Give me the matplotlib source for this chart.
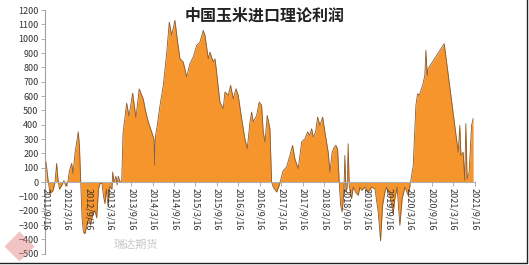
import matplotlib
matplotlib.use("Agg")
import matplotlib.pyplot as plt
import pandas as pd

plt.rcParams['font.family'] = ['Noto Sans CJK SC', 'DejaVu Sans']

start = pd.Timestamp('2011-09-16')

# days after 2011/9/16 and theoretical import profit (yuan/ton)
days = [4, 21, 38, 64, 81, 95, 106, 119, 140, 157, 174, 192, 204, 223, 234, 251, 279, 289,
        300, 311, 323, 336, 353, 370, 383, 404, 421, 436, 451, 464, 481, 494, 506, 519, 532,
        549, 566, 572, 583, 600, 609, 620, 634, 649, 660, 691, 711, 742, 770, 798, 832, 851,
        875, 904, 924, 930, 936, 949, 975, 1003, 1032, 1054, 1074, 1102, 1125, 1145, 1173,
        1202, 1230, 1258, 1287, 1315, 1343, 1358, 1386, 1400, 1428, 1443, 1457, 1485, 1513,
        1528, 1556, 1576, 1599, 1622, 1641, 1670, 1698, 1718, 1741, 1755, 1769, 1798, 1820,
        1840, 1854, 1869, 1888, 1911, 1925, 1939, 1968, 1990, 2002, 2024, 2053, 2081, 2104,
        2124, 2152, 2181, 2209, 2232, 2251, 2266, 2280, 2300, 2317, 2337, 2360, 2379, 2407,
        2422, 2441, 2458, 2473, 2487, 2501, 2513, 2526, 2541, 2549, 2558, 2569, 2577, 2586,
        2606, 2620, 2640, 2663, 2677, 2692, 2720, 2748, 2777, 2805, 2833, 2853, 2870, 2890,
        2904, 2932, 2960, 2975, 2994, 3017, 3037, 3060, 3088, 3109, 3131, 3154, 3168, 3182,
        3211, 3230, 3239, 3250, 3258, 3395, 3514, 3528, 3537, 3556, 3570, 3579, 3590, 3607,
        3628, 3641]
profit = [140, 20, -80, -60, 0, 130, 20, -50, -20, 10, -30, 10, 80, 130, 60, 200, 350, 250,
          0, -250, -350, -360, -300, -250, -300, -220, -200, -250, -50, -10, -10, -100, -150,
          -50, -170, -30, -50, 70, 0, 40, -20, 40, 0, 10, 340, 550, 460, 620, 450, 650, 580,
          500, 420, 350, 300, 120, 320, 380, 535, 674, 900, 1116, 1023, 1128, 977, 860, 837,
          733, 826, 872, 953, 977, 1058, 1023, 860, 907, 837, 860, 767, 558, 512, 628, 605,
          674, 581, 651, 605, 442, 302, 233, 419, 488, 419, 465, 558, 535, 349, 279, 465, 372,
          0, -35, -70, -23, 12, 81, 105, 186, 256, 160, 93, 279, 302, 349, 326, 372, 314, 349,
          453, 395, 453, 349, 209, 70, 209, 244, 256, 233, 0, -163, -209, -70, 186, -70, -35,
          267, -23, -116, -35, -70, -93, -35, -58, -35, -70, -35, -47, -209, -410, -163, -70,
          -35, -93, -221, -116, -35, -302, -116, -35, -93, 0, 116, 535, 616, 605, 674, 744,
          919, 744, 791, 965, 209, 395, 186, 209, 12, 407, 23, 70, 395, 442]

dates = [start + pd.Timedelta(days=d) for d in days]
tick_dates = [start + pd.DateOffset(months=6 * k) for k in range(21)]
tick_labels = [f"{t.year}/{t.month}/{t.day}" for t in tick_dates]

fig = plt.figure(figsize=(5.29, 2.65), dpi=100)
ax = fig.add_axes([0.086, 0.0426, 0.811, 0.9196])

ax.fill_between(dates, profit, 0, color='#F5952C', linewidth=0, zorder=2)
ax.plot(dates, profit, color='#8A5A2E', linewidth=0.6, zorder=3)

ax.set_xlim(start, start + pd.DateOffset(years=10))
ax.set_ylim(-500, 1200)
ax.set_yticks(range(-500, 1201, 100))
ax.set_xticks(tick_dates)
ax.set_xticklabels(tick_labels)

for s in ['top', 'right']:
    ax.spines[s].set_visible(False)
ax.spines['bottom'].set_position(('data', 0))
ax.spines['bottom'].set_color('#B0B0B0')
ax.spines['bottom'].set_zorder(4)
ax.spines['left'].set_color('#A0A0A0')
ax.xaxis.set_zorder(5)
ax.tick_params(axis='y', labelsize=6.5, colors='#A0A0A0', labelcolor='#333333',
               length=3, width=0.6, pad=2)
ax.tick_params(axis='x', labelsize=6.5, colors='#A0A0A0', labelcolor='#333333',
               length=3, width=0.6, pad=1, labelrotation=270)
for lbl in ax.get_xticklabels():
    lbl.set_ha('center')
    lbl.set_va('top')

fig.text(0.5, 0.94, '中国玉米进口理论利润', ha='center', va='center',
         fontsize=11.5, fontweight='bold', color='#222222')

# watermark logo
fig.add_artist(plt.Line2D([0.035], [0.07], marker='D', markersize=15, linestyle='none',
                          markerfacecolor='#E07A7A', markeredgecolor='none', alpha=0.45,
                          transform=fig.transFigure))
fig.text(0.215, 0.075, '瑞达期货', ha='left', va='center', fontsize=8,
         color='#B8B8B8', alpha=0.8)

# outer frame (right and bottom visible)
fig.add_artist(plt.Line2D([0, 0.997, 0.997], [0.008, 0.008, 1.0],
                          transform=fig.transFigure, color='#222222', linewidth=1))

fig.savefig('out.png', dpi=100)
